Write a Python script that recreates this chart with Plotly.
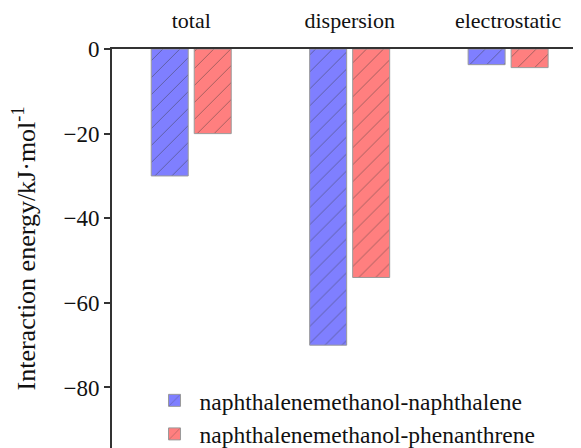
import plotly.graph_objects as go

categories = ["total", "dispersion", "electrostatic"]
series_names = ["naphthalenemethanol-naphthalene", "naphthalenemethanol-phenanthrene"]
naphthalene_vals = [-30, -70, -3.7]
phenanthrene_vals = [-20, -54, -4.4]
y_ticks = [0, -20, -40, -60, -80]
y_tick_labels = ["0", "\u221220", "\u221240", "\u221260", "\u221280"]

FONT = "serif"
colors = ["#7f7fff", "#ff7f7f"]

fig = go.Figure()
for name, vals, col in zip(series_names, [naphthalene_vals, phenanthrene_vals], colors):
    fig.add_trace(go.Bar(
        x=categories, y=vals, name=name,
        marker=dict(
            color=col,
            line=dict(color="#9a9a9a", width=1),
            pattern=dict(shape="/", fillmode="overlay", fgcolor="#333333",
                         fgopacity=0.45, size=12, solidity=0.08),
        ),
    ))

fig.update_layout(
    width=581, height=448,
    margin=dict(l=104, r=8, t=41, b=8, autoexpand=False),
    paper_bgcolor="white", plot_bgcolor="white",
    barmode="group", bargap=0.457, bargroupgap=0.14,
    font=dict(family=FONT, size=22, color="#111111"),
    showlegend=True,
    legend=dict(x=0.08, y=0.174, xanchor="left", yanchor="top",
                bgcolor="rgba(0,0,0,0)", font=dict(size=23.5, family=FONT),
                tracegroupgap=0, itemwidth=40),
    xaxis=dict(side="top", range=[-0.5, 2.46], showline=True, linecolor="#333333",
               linewidth=2, ticks="", showgrid=False, zeroline=False, automargin=False,
               ticklabelstandoff=10, tickfont=dict(size=22, family=FONT)),
    yaxis=dict(range=[-94.3, 0], showline=True, linecolor="#333333", linewidth=2,
               ticks="outside", ticklen=6, tickwidth=1.5, tickcolor="#333333",
               tickvals=y_ticks, ticktext=y_tick_labels, showgrid=False, zeroline=False,
               automargin=False, tickfont=dict(size=23, family=FONT),
               title=dict(text="Interaction energy/kJ\u00b7mol<sup>-1</sup>",
                          font=dict(size=26, family=FONT), standoff=20)),
)

fig.write_html("out.html")
